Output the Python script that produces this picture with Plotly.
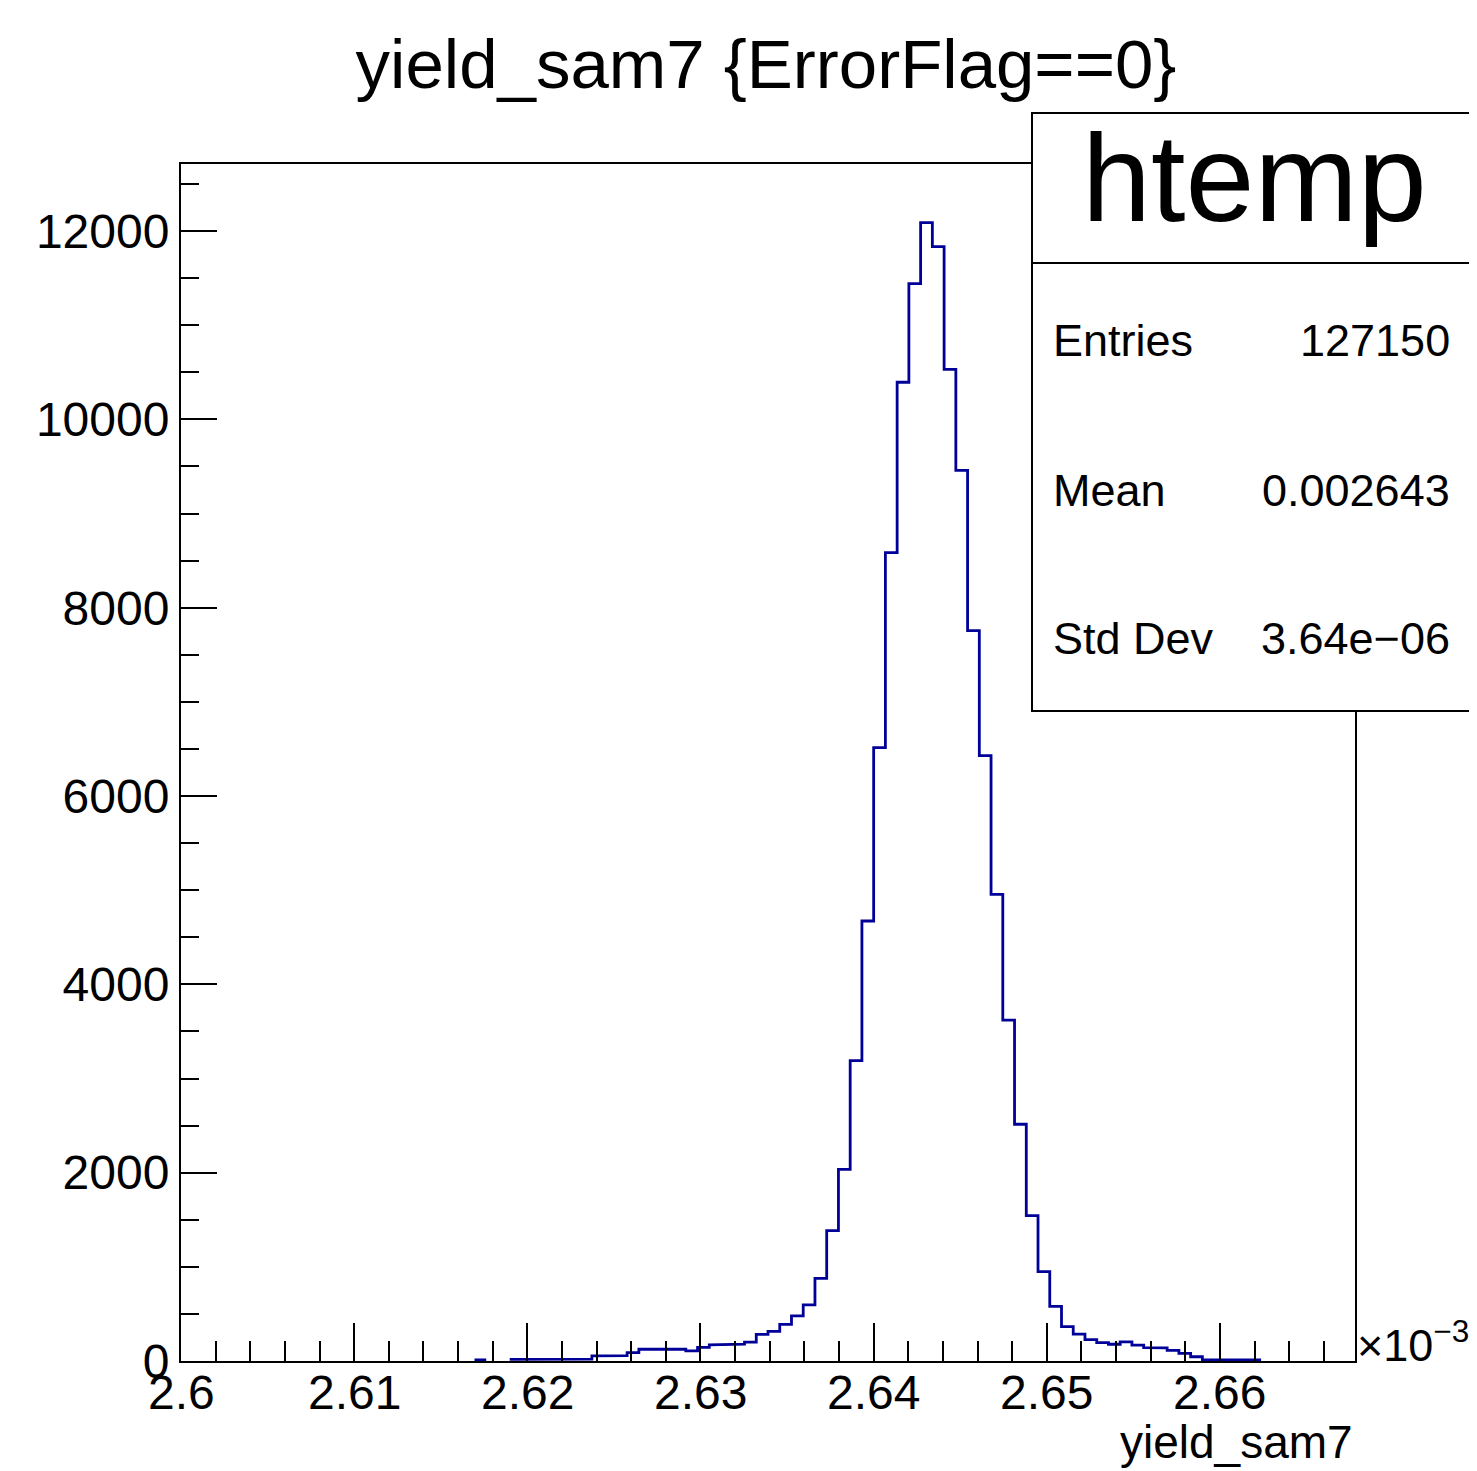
import numpy as np
import plotly.graph_objects as go

# ---------------- data ----------------
title_text = "yield_sam7 {ErrorFlag==0}"
x_title = "yield_sam7"
hist_name = "htemp"
stat_labels = ["Entries", "Mean", "Std Dev"]
stat_values = ["127150", "0.002643", "3.64e\u221206"]

# histogram binning (x in units of 1e-3)
bin_lo = 2.6
bin_hi = 2.6678
n_bins = 100

counts = [
    0, 0, 0, 0, 0, 0, 0, 0, 0, 0,
    0, 0, 0, 0, 0, 0, 0, 0, 0, 0,
    0, 0, 0, 0, 0, 12, 0, 0, 18, 20,
    22, 19, 21, 23, 20, 55, 60, 58, 88, 125,
    128, 130, 126, 108, 145, 172, 175, 178, 200, 283,
    315, 390, 480, 595, 878, 1384, 2036, 3189, 4673, 6513,
    8584, 10394, 11441, 12089, 11834, 10532, 9459, 7756, 6428, 4956,
    3621, 2514, 1543, 950, 580, 365, 285, 228, 195, 178,
    203, 168, 142, 140, 112, 80, 45, 14, 12, 13,
    12, 11, 0, 0, 0, 0, 0, 0, 0, 0,
]

x_tickvals = [2.60, 2.61, 2.62, 2.63, 2.64, 2.65, 2.66]
x_ticktext = ["2.6", "2.61", "2.62", "2.63", "2.64", "2.65", "2.66"]
y_tickvals = [0, 2000, 4000, 6000, 8000, 10000, 12000]
y_ticktext = ["0", "2000", "4000", "6000", "8000", "10000", "12000"]
y_max = 12712

# ---------------- build step outline ----------------
edges = np.linspace(bin_lo, bin_hi, n_bins + 1)
xs, ys = [], []
prev_zero = True
for i, c in enumerate(counts):
    if c == 0:
        if not prev_zero:
            xs.append(None); ys.append(None)
        prev_zero = True
        continue
    xs += [edges[i], edges[i + 1]]
    ys += [c, c]
    prev_zero = False

FONT = "Liberation Sans, Arial, Helvetica, sans-serif"
fig = go.Figure()
fig.add_trace(go.Scatter(x=xs, y=ys, mode="lines",
                         line=dict(color="#000099", width=2.8),
                         connectgaps=False, hoverinfo="skip", showlegend=False))

# page body has an 8px margin: the figure starts at (8, 8) in the window
OFF = 8
WIN_W, WIN_H = 1477, 1471
W, H = WIN_W - OFF, WIN_H - OFF
L, R, T, B = 181, 1355, 164, 1361   # window pixel coordinates of the frame
pw, ph = R - L, B - T

def px(xp):
    return (xp - L) / pw

def py(yp):
    return (B - yp) / ph

fig.update_layout(
    width=W, height=H,
    margin=dict(l=L - OFF, r=WIN_W - R, t=T - OFF, b=WIN_H - B, pad=0),
    paper_bgcolor="white", plot_bgcolor="white",
    font=dict(family=FONT, color="black"),
    title=dict(text=title_text, x=(766 - OFF) / W, xanchor="center",
               y=1 - (64 - OFF) / H, yanchor="middle",
               font=dict(size=69, family=FONT, color="black")),
)

fig.update_xaxes(
    range=[bin_lo, bin_hi], showgrid=False, zeroline=False,
    showline=True, linecolor="black", linewidth=2, mirror=True,
    ticks="inside", ticklen=38, tickwidth=2, tickcolor="black",
    tickvals=x_tickvals, showticklabels=False,
    minor=dict(ticks="inside", dtick=0.002, tick0=bin_lo, ticklen=20,
               tickwidth=2, tickcolor="black", showgrid=False),
)
fig.update_yaxes(
    range=[0, y_max], showgrid=False, zeroline=False,
    showline=True, linecolor="black", linewidth=2, mirror=True,
    ticks="inside", ticklen=36, tickwidth=2, tickcolor="black",
    tickvals=y_tickvals, ticktext=y_ticktext,
    tickfont=dict(size=48, family=FONT, color="black"),
    minor=dict(ticks="inside", dtick=500, tick0=0, ticklen=18,
               tickwidth=2, tickcolor="black", showgrid=False),
)

# stats box
bx0, bx1, by0, by1, bdiv = 1032, 1474, 113, 711, 263
fig.add_shape(type="rect", xref="paper", yref="paper",
              x0=px(bx0), x1=px(bx1), y0=py(by1), y1=py(by0),
              line=dict(color="black", width=2), fillcolor="white", layer="above")
fig.add_shape(type="line", xref="paper", yref="paper",
              x0=px(bx0), x1=px(bx1), y0=py(bdiv), y1=py(bdiv),
              line=dict(color="black", width=2), layer="above")

annots = []
# x tick labels (placed on the x axis scale, just below the axis)
for tv, tt in zip(x_tickvals, x_ticktext):
    annots.append(dict(text=tt, x=tv, xref="x", y=py(1392), yref="paper",
                       xanchor="center", yanchor="middle", showarrow=False,
                       font=dict(size=48, family=FONT, color="black")))
annots.append(dict(text=hist_name, x=px(1254), y=py(178), xref="paper", yref="paper",
                   xanchor="center", yanchor="middle", showarrow=False,
                   font=dict(size=124, family=FONT, color="black")))
row_y = [340, 490, 638]
for lab, val, yy in zip(stat_labels, stat_values, row_y):
    annots.append(dict(text=lab, x=px(1051), y=py(yy), xref="paper", yref="paper",
                       xanchor="left", yanchor="middle", showarrow=False,
                       font=dict(size=45, family=FONT, color="black")))
    annots.append(dict(text=val, x=px(1452), y=py(yy), xref="paper", yref="paper",
                       xanchor="right", yanchor="middle", showarrow=False,
                       font=dict(size=45, family=FONT, color="black")))
annots.append(dict(text=x_title, x=1.0, y=py(1442), xref="paper", yref="paper",
                   xanchor="right", yanchor="middle", showarrow=False,
                   font=dict(size=46, family=FONT, color="black")))
annots.append(dict(text="\u00d710<sup>\u22123</sup>", x=px(1355), y=py(1342),
                   xref="paper", yref="paper", xanchor="left", yanchor="middle",
                   showarrow=False, font=dict(size=45, family=FONT, color="black")))
fig.update_layout(annotations=annots)

fig.write_html("out.html")
